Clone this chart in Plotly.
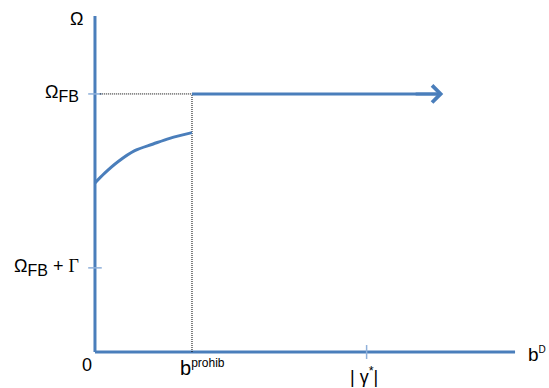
import plotly.graph_objects as go

# Payoff Ω as a function of the disclosure bound b^D (stylised diagram)
b_prohib = 1.0
gamma_star = 2.80
b_axis_end = 4.33
b_arrow_end = 3.59

omega_fb = 10.0
omega_fb_gamma = 3.26
omega_axis_top = 13.02

# Rising branch below the prohibition threshold
b_curve = [0.0, 0.10, 0.24, 0.41, 0.60, 0.77, 1.00]
omega_curve = [6.55, 6.93, 7.38, 7.80, 8.06, 8.28, 8.50]

BLUE = "#4a7ebb"
TICK_BLUE = "#8fb0da"
FONT = "Liberation Sans, Arial, sans-serif"

fig = go.Figure()

# Axes drawn as lines from the origin
fig.add_trace(go.Scatter(x=[0, 0], y=[0, omega_axis_top], mode="lines",
                         line=dict(color=BLUE, width=3), hoverinfo="skip"))
fig.add_trace(go.Scatter(x=[0, b_axis_end], y=[0, 0], mode="lines",
                         line=dict(color=BLUE, width=3), hoverinfo="skip"))

# Tick marks on the axes
for yv in [omega_fb, omega_fb_gamma]:
    fig.add_trace(go.Scatter(x=[-0.07, 0.07], y=[yv, yv], mode="lines",
                             line=dict(color=TICK_BLUE, width=1.5), hoverinfo="skip"))
fig.add_trace(go.Scatter(x=[gamma_star, gamma_star], y=[-0.27, 0.27], mode="lines",
                         line=dict(color=TICK_BLUE, width=1.5), hoverinfo="skip"))

# Dotted guide lines at the threshold
dot = dict(color="black", width=1, dash="1px,1px")
fig.add_trace(go.Scatter(x=[0.05, b_prohib], y=[omega_fb, omega_fb], mode="lines",
                         line=dot, hoverinfo="skip"))
fig.add_trace(go.Scatter(x=[b_prohib, b_prohib], y=[0, omega_fb], mode="lines",
                         line=dot, hoverinfo="skip"))

# Rising branch
fig.add_trace(go.Scatter(x=b_curve, y=omega_curve, mode="lines",
                         line=dict(color=BLUE, width=3, shape="spline"), hoverinfo="skip"))

# Flat branch at Ω_FB with arrow
fig.add_trace(go.Scatter(x=[b_prohib, b_arrow_end - 0.05], y=[omega_fb, omega_fb], mode="lines",
                         line=dict(color=BLUE, width=3), hoverinfo="skip"))
fig.add_annotation(x=b_arrow_end, y=omega_fb, ax=b_arrow_end - 0.3, ay=omega_fb,
                   xref="x", yref="y", axref="x", ayref="y", text="",
                   showarrow=True, arrowhead=4, arrowsize=1.1, arrowwidth=3,
                   arrowcolor=BLUE)


def label(x, y, text, xanchor="center", size=18):
    fig.add_annotation(x=x, y=y, xref="x", yref="y", text=text, showarrow=False,
                       xanchor=xanchor, yanchor="middle",
                       font=dict(family=FONT, size=size, color="black"))


SUB_FB = "<sub><span style='font-size:16px'>FB</span></sub>"
GAMMA = "<span style='font-family:Liberation Serif, Times New Roman, serif'>Γ</span>"
label(-0.10, 12.9, "Ω", xanchor="right")
label(-0.14, omega_fb, "Ω" + SUB_FB, xanchor="right")
label(-0.14, omega_fb_gamma, "Ω" + SUB_FB + "&nbsp;+&nbsp;" + GAMMA, xanchor="right")
label(-0.08, -0.5, "0")
label(b_prohib + 0.11, -0.6, "<span style='font-size:20px'>b</span><sup><span style='font-size:12px'>prohib</span></sup>")
label(gamma_star - 0.03, -0.9, "| γ<sup>*</sup>|")
label(4.56, -0.1, "b<sup><span style='font-size:10px'>D</span></sup>", size=19)

fig.update_layout(
    width=549, height=388,
    margin=dict(l=0, r=0, t=0, b=0),
    paper_bgcolor="white", plot_bgcolor="white",
    showlegend=False,
    xaxis=dict(range=[-0.979, 4.680], visible=False, fixedrange=True),
    yaxis=dict(range=[-1.395, 13.64], visible=False, fixedrange=True),
)

fig.write_html("out.html")
